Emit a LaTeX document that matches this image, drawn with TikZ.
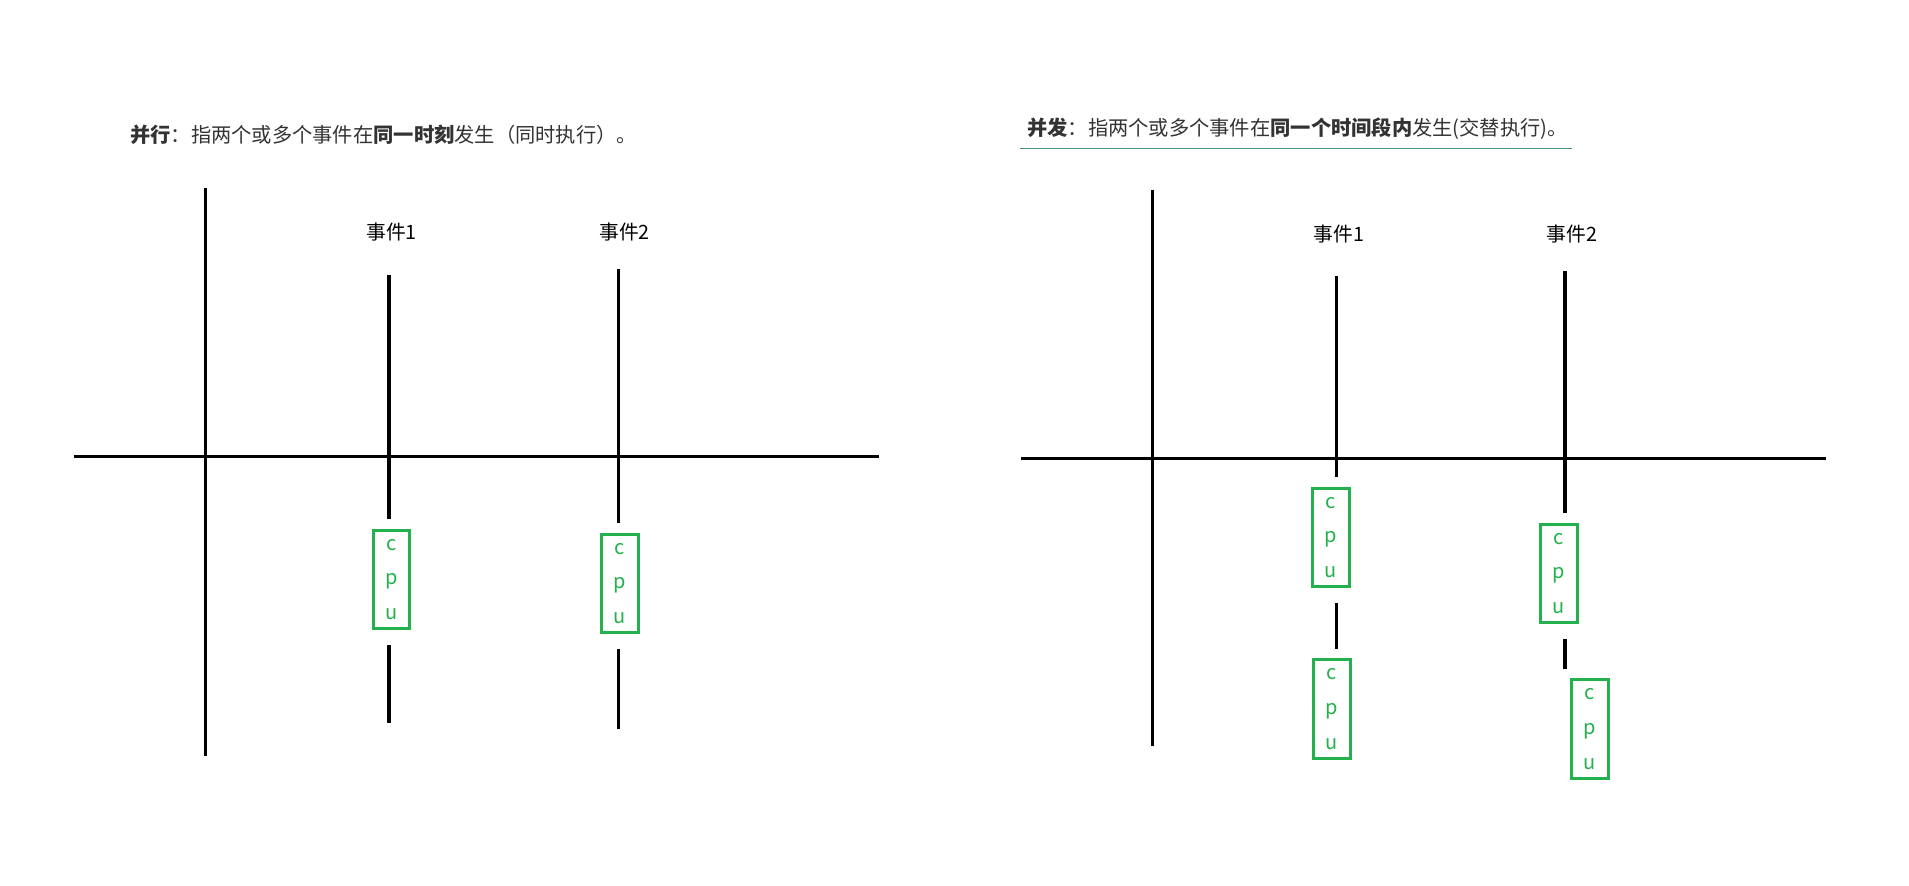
\documentclass[tikz,border=0pt]{standalone}
\usepackage{fontspec}
\setmainfont{Noto Sans CJK SC}
\definecolor{cpugreen}{RGB}{34,177,76}
\definecolor{titlegray}{RGB}{51,51,51}
\definecolor{linegreen}{RGB}{64,150,120}
\tikzset{
  axis/.style={line width=2.2pt, black},
  evline/.style={line width=2.3pt, black},
  cpubox/.style={draw=cpugreen, line width=2.3pt, text=cpugreen, minimum width=27.5pt, minimum height=74pt, inner sep=0pt, align=center, font=\fontsize{15}{26}\selectfont},
  evlabel/.style={inner sep=0pt, font=\fontsize{14.8}{17}\selectfont},
  titletext/.style={anchor=west, inner sep=0pt, text=titlegray, font=\fontsize{15.2}{17}\selectfont}
}
\begin{document}
\begin{tikzpicture}[x=0.75pt,y=0.75pt,yscale=-1,xscale=1]
	\useasboundingbox (0,0) rectangle (1909,885);

	% Title: left
	\node [titletext] (titleL) at (130,135) {\textbf{并行}：指两个或多个事件在\textbf{同一时刻}发生（同时执行）。};
	% Title: right
	\node [titletext] (titleR) at (1027,129) {\textbf{并发}：指两个或多个事件在\textbf{同一个时间段内}发生(交替执行)。};
	\draw [linegreen, line width=1.1pt] (1020,148.3) -- (1572,148.3);

	%Left axes
	\draw [axis] (205.3,188) -- (205.3,755.7);
	\draw [axis] (74,456.7) -- (879,456.7);

	% Left events
	\node [evlabel] (evL1) at (391.5,232) {事件1};
	\node [evlabel] (evL2) at (624.5,232) {事件2};
	\node [cpubox] (cpuL1) at (391.5,579.5) {c\\p\\u};
	\node [cpubox] (cpuL2) at (620,583.5) {c\\p\\u};
	\coordinate (l1a) at (389,275);
	\coordinate (l1b) at (389,519);
	\coordinate (l1c) at (389,645);
	\coordinate (l1d) at (389,723);
	\coordinate (l2a) at (618.5,269);
	\coordinate (l2b) at (618.5,523);
	\coordinate (l2c) at (618.5,649);
	\coordinate (l2d) at (618.5,729);
	\draw [evline] (l1a) -- (l1b);
	\draw [evline] (l1c) -- (l1d);
	\draw [evline] (l2a) -- (l2b);
	\draw [evline] (l2c) -- (l2d);

	%Right axes
	\draw [axis] (1152.3,190) -- (1152.3,746);
	\draw [axis] (1021,458.3) -- (1826,458.3);

	% Right events
	\node [evlabel] (evR1) at (1339,234) {事件1};
	\node [evlabel] (evR2) at (1572,234) {事件2};
	\node [cpubox] (cpuR1) at (1331,537.5) {c\\p\\u};
	\node [cpubox] (cpuR2) at (1332,709) {c\\p\\u};
	\node [cpubox] (cpuR3) at (1559,573.5) {c\\p\\u};
	\node [cpubox] (cpuR4) at (1590,729) {c\\p\\u};
	\coordinate (r1a) at (1336.7,276);
	\coordinate (r1b) at (1336.7,477);
	\coordinate (r1c) at (1336.7,603);
	\coordinate (r1d) at (1336.7,649);
	\coordinate (r2a) at (1565,271);
	\coordinate (r2b) at (1565,513);
	\coordinate (r2c) at (1565,639);
	\coordinate (r2d) at (1565,669);
	\draw [evline] (r1a) -- (r1b);
	\draw [evline] (r1c) -- (r1d);
	\draw [evline] (r2a) -- (r2b);
	\draw [evline] (r2c) -- (r2d);
\end{tikzpicture}
\end{document}
